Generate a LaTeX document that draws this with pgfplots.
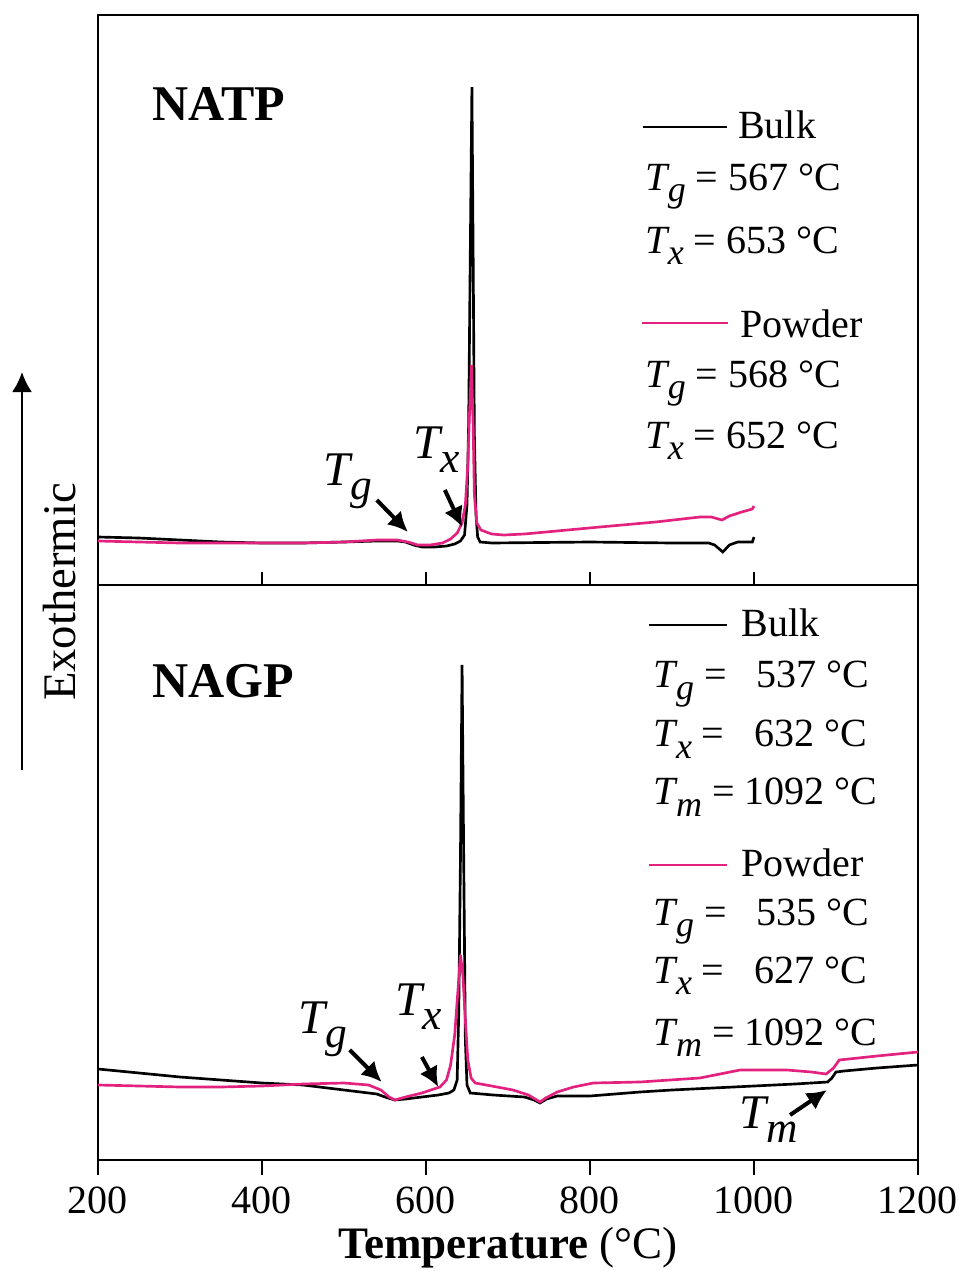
\documentclass[border=0pt]{standalone}
\usepackage{pgfplots}
\pgfplotsset{compat=1.18}
\usepackage{fontspec}
\setmainfont{Liberation Serif}
\usetikzlibrary{arrows.meta}

\definecolor{powder}{RGB}{226,34,126}
% italic symbol with a lowered italic subscript
\newcommand{\Ts}[1]{\textit{T}\kern-0.06em\raisebox{-0.65ex}{\scalebox{0.9}{\textit{#1}}}}

\pgfplotsset{
  dsc/.style={
    scale only axis, width=246pt,
    xmin=200, xmax=1200, ymin=0,
    ytick=\empty, xtick pos=left,
    clip=false,
    axis line style={line width=0.7pt},
    every tick/.style={black, line width=0.7pt},
    /pgf/number format/assume math mode=true,
    /pgf/number format/1000 sep={},
    tick label style={font=\fontsize{12}{14}\selectfont},
  },
}
\tikzset{
  lg/.style={anchor=base west, font=\fontsize{12}{14}\selectfont, inner sep=0pt},
  ann/.style={anchor=base west, font=\fontsize{14.5}{16}\selectfont, inner sep=0pt},
  arr/.style={line width=1.2pt, -{Latex[length=6pt,width=6pt]}},
}

\begin{document}
\begin{tikzpicture}
\path[use as bounding box] (-29.4pt,-33.3pt) rectangle (259.2pt,348pt);

% ---- NATP ----
\begin{axis}[dsc, at={(0,172.5pt)}, height=171pt, ymax=570,
  xtick={400,600,800,1000}, xticklabels={}, tick align=inside,
  major tick length=4pt]
\addplot[black, line width=0.8pt] coordinates {
 (200,48)(250,47)(300,45)(350,43)(400,42)(450,42)(500,43)(540,44)(565,44)
 (575,43)(585,40)(595,38)(610,38)(625,39)(635,41)(642,44)(647,50)(650,80)
 (652,160)(654,330)(656,498)(657.5,330)(659,150)(661,70)(663,48)(666,43)
 (680,42)(800,43)(900,42)(945,42)(952,40)(962,33)(970,40)(980,43)(998,43)(1000,48)};
\addplot[powder, line width=0.8pt] coordinates {
 (200,44)(250,43)(300,42)(400,42)(450,42)(500,43)(540,45)(565,45)(578,43)
 (590,40)(605,40)(620,42)(630,46)(638,52)(644,62)(648,80)(651,120)(653,170)
 (655.5,220)(657.5,160)(659,90)(662,62)(667,55)(680,51)(695,50)(720,51)
 (812,58)(880,63)(934,68)(948,68)(961,65)(970,69)(985,73)(998,76)(1000,79)};
\node[anchor=base west, font=\fontsize{15}{17}\selectfont\bfseries, inner sep=0pt] at (axis cs:266,465) {NATP};
\draw[black, line width=0.8pt] (axis cs:865,458) -- (axis cs:967,458);
\node[lg] at (axis cs:980,447) {Bulk};
\node[lg] at (axis cs:867,395) {\Ts{g} = 567 °C};
\node[lg] at (axis cs:867,332) {\Ts{x} = 653 °C};
\draw[powder, line width=0.8pt] (axis cs:863,262) -- (axis cs:968,262);
\node[lg] at (axis cs:983,248) {Powder};
\node[lg] at (axis cs:867,198) {\Ts{g} = 568 °C};
\node[lg] at (axis cs:867,137) {\Ts{x} = 652 °C};
\node[ann] at (axis cs:474,100) {\Ts{g}};
\draw[arr] (axis cs:540,85) -- (axis cs:578,53);
\node[ann] at (axis cs:584,127) {\Ts{x}};
\draw[arr] (axis cs:623,95) -- (axis cs:644,58);
\end{axis}

% ---- NAGP ----
\begin{axis}[dsc, at={(0,0)}, height=172.5pt, ymax=575,
  xtick={200,400,...,1200}, tick align=outside, major tick length=4.5pt,
  xlabel={\textbf{Temperature} (°C)},
  xlabel style={font=\fontsize{13.5}{15}\selectfont, yshift=2.8pt}]
\addplot[black, line width=0.8pt] coordinates {
 (200,91)(250,87)(300,83)(350,80)(400,77)(450,75)(470,73)(520,68)(540,66)
 (550,63)(562,60)(575,61)(595,63)(615,65)(628,67)(634,70)(638,80)(640,150)
 (642,300)(644,495)(646,300)(648,120)(650,75)(654,67)(682,65)(720,63)
 (732,60)(739,57)(747,61)(760,64)(800,64)(861,68)(900,70)(950,72)(1000,74)
 (1050,76)(1090,78)(1095,82)(1100,88)(1110,89)(1150,92)(1200,95)};
\addplot[powder, line width=0.8pt] coordinates {
 (200,75)(250,74)(300,73)(350,73)(400,74)(450,76)(500,77)(530,75)(545,70)
 (555,63)(562,60)(575,63)(595,67)(617,73)(625,80)(630,95)(635,125)(639,170)
 (642,205)(645,185)(648,140)(651,100)(655,82)(660,77)(680,74)(706,70)
 (725,65)(733,61)(739,58)(746,62)(760,68)(780,73)(804,77)(861,78)(934,82)
 (983,90)(1040,90)(1070,88)(1088,86)(1097,92)(1104,100)(1150,104)(1200,108)};
\node[anchor=base west, font=\fontsize{15}{17}\selectfont\bfseries, inner sep=0pt] at (axis cs:266,462) {NAGP};
\draw[black, line width=0.8pt] (axis cs:872,535) -- (axis cs:967,535);
\node[lg] at (axis cs:984,523) {Bulk};
\node[lg] at (axis cs:877,472) {\Ts{g} = \hphantom{1}537 °C};
\node[lg] at (axis cs:877,413) {\Ts{x} = \hphantom{1}632 °C};
\node[lg] at (axis cs:877,355) {\Ts{m} = 1092 °C};
\draw[powder, line width=0.8pt] (axis cs:872,295) -- (axis cs:967,295);
\node[lg] at (axis cs:984,283) {Powder};
\node[lg] at (axis cs:877,235) {\Ts{g} = \hphantom{1}535 °C};
\node[lg] at (axis cs:877,177) {\Ts{x} = \hphantom{1}627 °C};
\node[lg] at (axis cs:877,115) {\Ts{m} = 1092 °C};
\node[ann] at (axis cs:444,127) {\Ts{g}};
\draw[arr] (axis cs:507,110) -- (axis cs:546,78);
\node[ann] at (axis cs:562,145) {\Ts{x}};
\draw[arr] (axis cs:595,103) -- (axis cs:615,73);
\node[ann] at (axis cs:982,32) {\Ts{m}};
\draw[arr] (axis cs:1044,45) -- (axis cs:1089,70);
\end{axis}

% Exothermic direction arrow
\draw[line width=0.7pt, -{Latex[length=6pt,width=6pt]}] (-22.8pt,117pt) -- (-22.8pt,236.4pt);
\node[rotate=90, anchor=base, font=\fontsize{14}{16}\selectfont, inner sep=0pt] at (-6.8pt,170.4pt) {Exothermic};
\end{tikzpicture}
\end{document}
